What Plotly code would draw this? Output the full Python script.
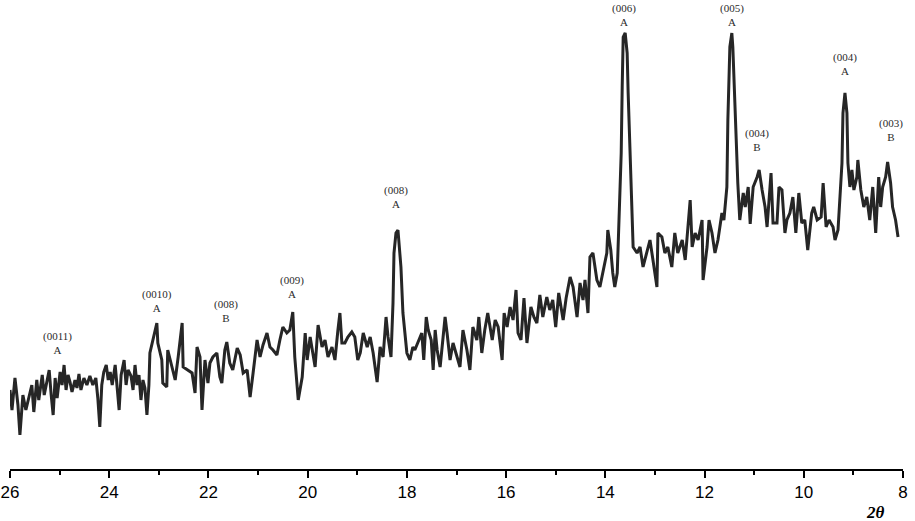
import plotly.graph_objects as go

two_theta = [
    26.00, 25.96, 25.90, 25.84, 25.80, 25.74, 25.68, 25.62, 25.56, 25.52, 25.46, 25.42, 25.35, 25.31, 25.25,
    25.21, 25.17, 25.13, 25.09, 25.05, 24.99, 24.95, 24.91, 24.87, 24.83, 24.79, 24.75, 24.69, 24.65, 24.61,
    24.57, 24.51, 24.45, 24.39, 24.33, 24.27, 24.23, 24.19, 24.15, 24.11, 24.06, 24.02, 23.98, 23.94, 23.88,
    23.84, 23.80, 23.76, 23.70, 23.66, 23.62, 23.56, 23.52, 23.48, 23.44, 23.40, 23.36, 23.32, 23.28, 23.24,
    23.20,
    23.18, 23.12, 23.04, 23.02, 22.94, 22.92, 22.84, 22.82, 22.73, 22.67, 22.61, 22.53, 22.51, 22.43, 22.33,
    22.27, 22.23, 22.17, 22.13, 22.07, 22.01, 21.97, 21.91, 21.83, 21.77, 21.73, 21.67, 21.63, 21.57, 21.51,
    21.42, 21.36, 21.30, 21.22, 21.16, 21.10, 21.02, 20.96, 20.90, 20.82, 20.76, 20.70, 20.62, 20.56, 20.50,
    20.42, 20.36, 20.30, 20.26, 20.19,
    20.11, 20.05, 20.01, 19.95, 19.85, 19.79, 19.71, 19.65, 19.59, 19.51, 19.45, 19.39, 19.35, 19.31, 19.25,
    19.19, 19.11, 19.05, 18.99, 18.94, 18.88, 18.80, 18.74, 18.68, 18.60, 18.54, 18.48, 18.42, 18.38, 18.32,
    18.28, 18.26, 18.22, 18.18, 18.16, 18.12, 18.08, 18.04, 18.00, 17.94, 17.88, 17.84, 17.78, 17.70, 17.66,
    17.61, 17.57, 17.51, 17.47, 17.43, 17.39, 17.33, 17.27, 17.23, 17.19, 17.13, 17.07,
    16.93, 16.87, 16.79, 16.73, 16.67, 16.59, 16.55, 16.49, 16.43, 16.37, 16.28, 16.22, 16.16, 16.08, 16.04,
    15.98, 15.92, 15.86, 15.80, 15.76, 15.70, 15.64, 15.58, 15.50, 15.44, 15.38, 15.32, 15.26, 15.18, 15.12,
    15.06, 15.00, 14.94, 14.85, 14.79, 14.71, 14.65, 14.57, 14.51, 14.45, 14.41, 14.35, 14.31,
    14.25, 14.17, 14.11, 14.05, 13.97, 13.95, 13.89, 13.85, 13.81, 13.76, 13.72, 13.68, 13.66, 13.64, 13.60,
    13.56, 13.54, 13.50, 13.46, 13.44, 13.36, 13.30, 13.24, 13.16, 13.10, 13.04, 12.96, 12.94, 12.86, 12.80,
    12.74, 12.66, 12.60, 12.54, 12.45, 12.39, 12.33, 12.29, 12.25, 12.19, 12.13, 12.05, 12.03, 11.95, 11.91,
    11.85, 11.79, 11.73, 11.65, 11.61, 11.55, 11.53, 11.49, 11.45, 11.43, 11.39, 11.35, 11.33, 11.29, 11.22,
    11.18, 11.12,
    11.08, 11.02, 10.94, 10.90, 10.84, 10.78, 10.74, 10.66, 10.62, 10.54, 10.50, 10.44, 10.38, 10.34, 10.28,
    10.22, 10.16, 10.10, 10.04, 9.98, 9.92, 9.84, 9.80, 9.73, 9.65, 9.61, 9.55, 9.49, 9.41, 9.37,
    9.31, 9.27, 9.23, 9.21, 9.17, 9.13, 9.11, 9.07, 9.03, 8.99, 8.93, 8.91, 8.85, 8.79, 8.73,
    8.67, 8.61, 8.55, 8.49, 8.45, 8.41, 8.35, 8.31, 8.25, 8.21, 8.15, 8.10,
]

intensity = [
    79, 59, 91, 64, 34, 74, 59, 71, 84, 57, 89, 69, 94, 74, 89,
    99, 74, 54, 91, 71, 97, 84, 104, 79, 94, 87, 77, 89, 81, 95,
    79, 91, 84, 93, 84, 91, 71, 42, 84, 97, 104, 89, 97, 84, 104,
    79, 59, 94, 109, 84, 99, 93, 79, 104, 84, 94, 69, 89, 81, 54,
    84,
    116, 129, 146, 126, 109, 86, 82, 119, 99, 89, 112, 146, 102, 99, 96,
    76, 122, 112, 59, 109, 86, 106, 112, 116, 92, 86, 119, 127, 106, 99,
    121, 114, 96, 99, 72, 96, 129, 112, 124, 136, 122, 119, 114, 129, 142,
    136, 139, 157, 112, 69,
    92, 136, 109, 132, 102, 144, 122, 129, 112, 122, 109, 139, 156, 126, 126,
    132, 137, 132, 109, 116, 136, 122, 132, 116, 87, 122, 112, 152, 132, 112,
    166, 216, 236, 239, 229, 202, 156, 136, 116, 109, 122, 119, 126, 136, 109,
    152, 139, 129, 99, 139, 119, 102, 132, 152, 136, 109, 126,
    102, 139, 119, 99, 142, 129, 152, 116, 139, 156, 129, 149, 142, 109, 156,
    142, 162, 149, 179, 136, 129, 171, 126, 162, 152, 146, 174, 152, 172, 159,
    169, 142, 176, 149, 171, 192, 182, 152, 186, 169, 189, 156, 212,
    216, 189, 182, 196, 216, 239, 219, 196, 182, 196, 249, 316, 382, 432, 436,
    416, 376, 316, 266, 222, 216, 222, 202, 216, 229, 209, 182, 236, 232, 216,
    222, 202, 236, 216, 229, 209, 249, 269, 222, 236, 229, 249, 189, 222, 249,
    236, 216, 229, 256, 249, 282, 349, 422, 436, 422, 362, 316, 286, 249, 276,
    262, 282,
    245, 282, 292, 299, 279, 262, 242, 296, 246, 246, 282, 279, 236, 249, 256,
    272, 236, 276, 246, 249, 219, 256, 262, 249, 252, 286, 242, 249, 242, 229,
    239, 272, 306, 356, 376, 356, 306, 282, 299, 279, 292, 309, 279, 262, 272,
    249, 282, 236, 292, 262, 282, 292, 307, 286, 262, 249, 232,
]

peak_hkl = ["(0011)", "(0010)", "(008)", "(009)", "(008)", "(006)", "(005)", "(004)", "(004)", "(003)"]
peak_phase = ["A", "A", "B", "A", "A", "A", "A", "A", "B", "B"]
label_x = [25.05, 23.04, 21.65, 20.32, 18.22, 13.62, 11.45, 9.17, 10.94, 8.24]
label_y = [126, 168, 158, 182, 272, 454, 454, 405, 329, 339]

tick_vals = [26, 24, 22, 20, 18, 16, 14, 12, 10, 8]
tick_text = ["26", "24", "22", "20", "18", "16", "14", "12", "10", "8"]
minor_vals = [25, 23, 21, 19, 17, 15, 13, 11, 9]

fig = go.Figure()
fig.add_trace(go.Scatter(
    x=two_theta, y=intensity, mode="lines",
    line=dict(color="#262626", width=3),
    hoverinfo="skip", showlegend=False, cliponaxis=False,
))

for hkl, ph, lx, ly in zip(peak_hkl, peak_phase, label_x, label_y):
    fig.add_annotation(
        x=lx, y=ly, xref="x", yref="y",
        text=f"{hkl}<br>{ph}", showarrow=False,
        font=dict(family="Liberation Serif, Times New Roman, serif", size=11, color="#2b2b2b"),
        xanchor="center", yanchor="middle", align="center",
    )

fig.add_annotation(
    x=(875 - 10) / (915 - 22), y=-43 / 469, xref="paper", yref="paper",
    text="<b><i>2θ</i></b>", showarrow=False,
    font=dict(family="Liberation Serif, Times New Roman, serif", size=17, color="#000000"),
    xanchor="center", yanchor="middle",
)

fig.update_xaxes(
    range=[26, 8], autorange=False, automargin=False,
    tickmode="array", tickvals=tick_vals, ticktext=tick_text,
    ticks="outside", ticklen=7, tickwidth=2, tickcolor="#000",
    showline=True, linecolor="#000", linewidth=2,
    showgrid=False, zeroline=False,
    tickfont=dict(family="Liberation Sans, Arial, sans-serif", size=17, color="#000"),
    minor=dict(ticks="outside", ticklen=4, tickwidth=2, tickcolor="#000",
               tickmode="array", tickvals=minor_vals, showgrid=False),
)
fig.update_yaxes(range=[0, 469], autorange=False, automargin=False, visible=False,
                 showgrid=False, zeroline=False)

fig.update_layout(
    width=915, height=521,
    margin=dict(l=10, r=12, t=0, b=52, autoexpand=False),
    plot_bgcolor="white", paper_bgcolor="white",
)

fig.write_html(
    "out.html",
    config={"displayModeBar": False},
    post_script="document.body.style.margin='0';document.body.style.padding='0';",
)
